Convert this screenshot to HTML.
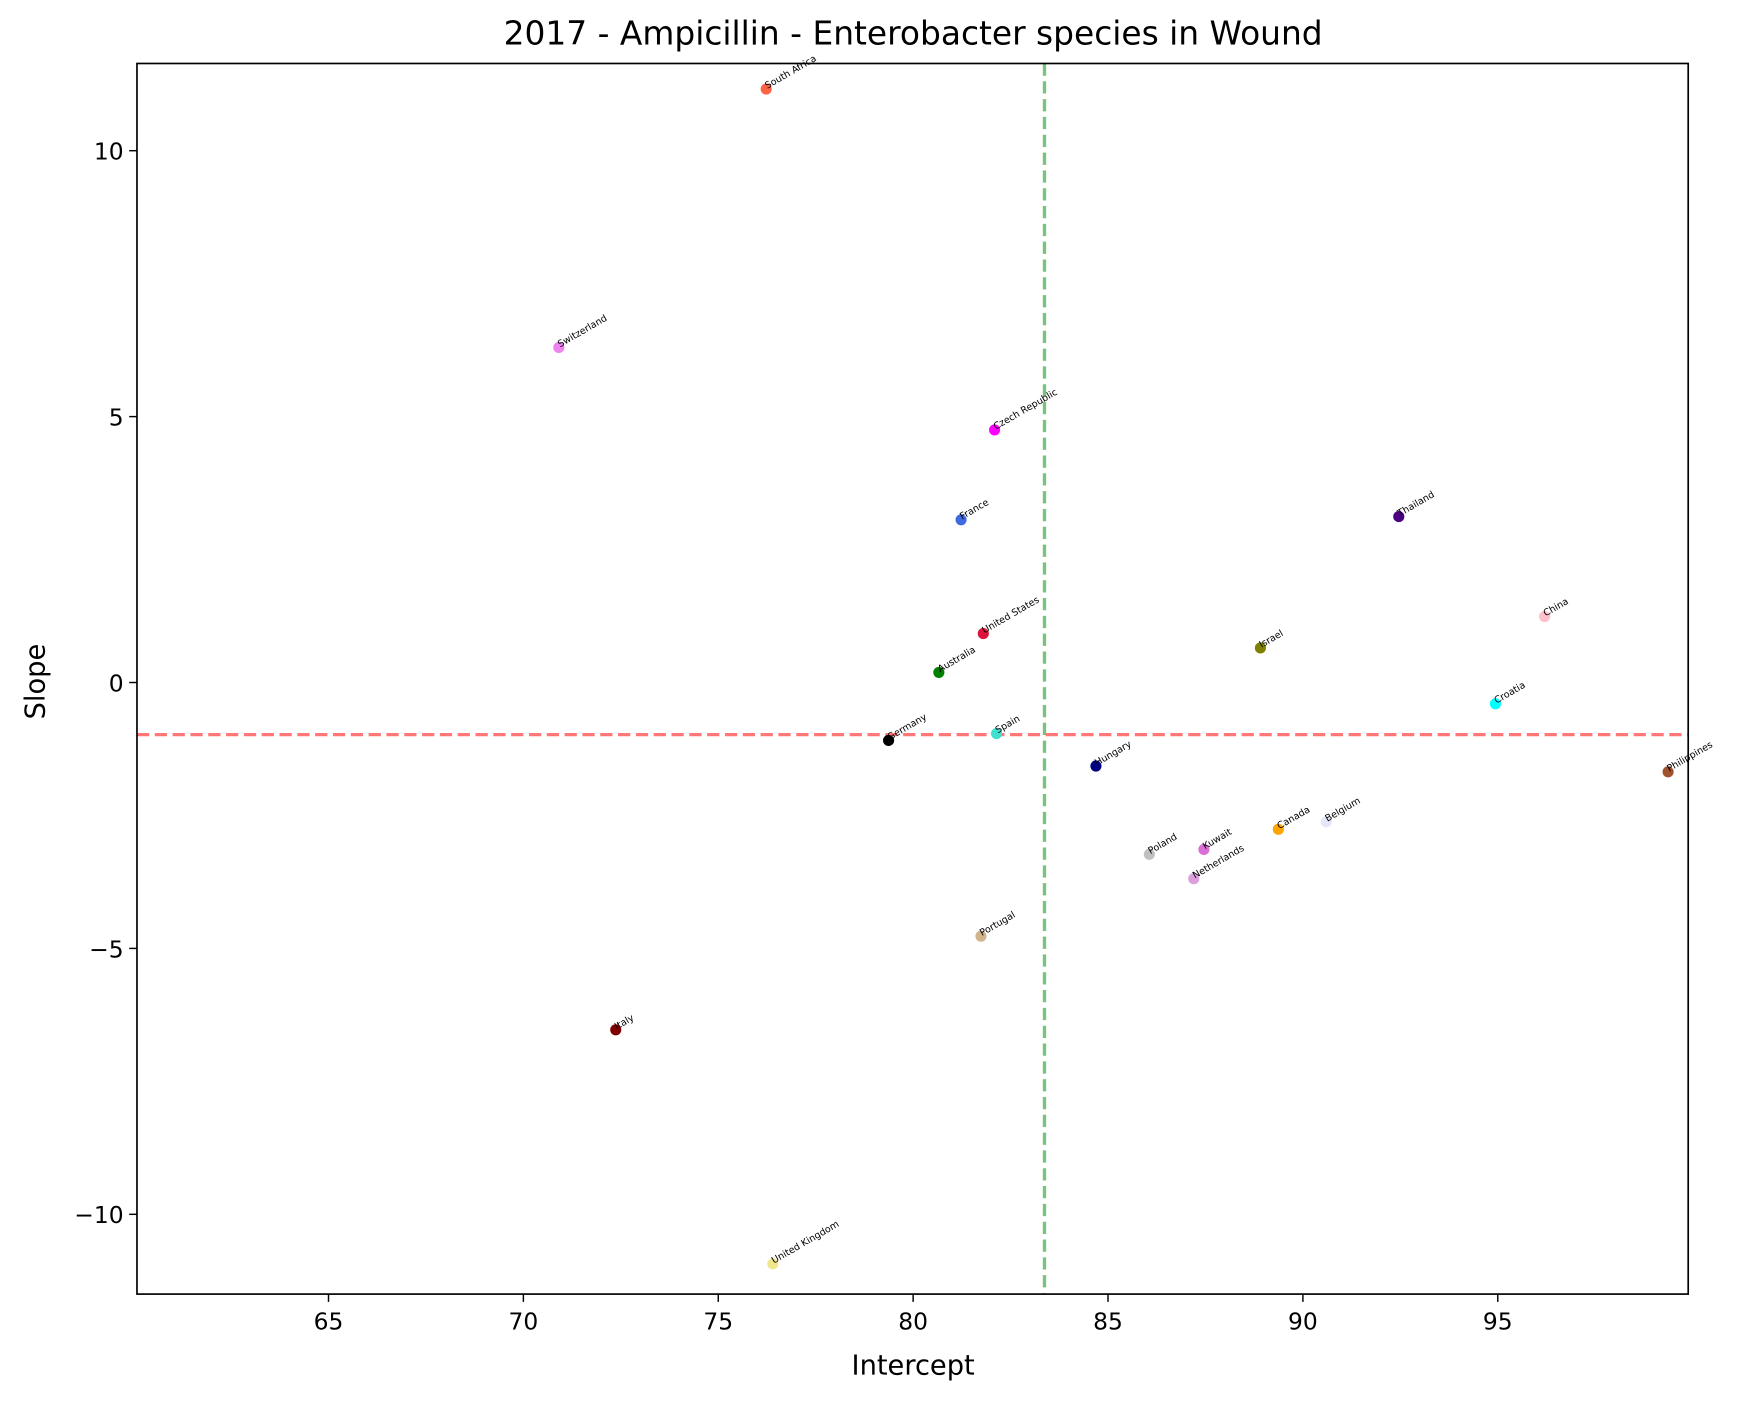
<!DOCTYPE html>
<html><head><meta charset="utf-8"><style>
body{margin:0;background:#fff;font-family:"Liberation Sans","DejaVu Sans",sans-serif;}
svg{display:block;}
svg text{font-family:"DejaVu Sans","Liberation Sans",sans-serif;}
</style></head><body>
<svg id="chart" width="1745" height="1401" viewBox="0 0 1567 1258" preserveAspectRatio="none" xmlns="http://www.w3.org/2000/svg"></svg>
<script>
const countries=["South Africa","Switzerland","Czech Republic","France","Thailand","China","United States","Israel","Australia","Croatia","Germany","Spain","Hungary","Philippines","Belgium","Canada","Kuwait","Poland","Netherlands","Portugal","Italy","United Kingdom"];
const intercepts=[76.23,70.91,82.09,81.23,92.46,96.2,81.8,88.91,80.66,94.94,79.37,82.14,84.69,99.37,90.6,89.37,87.46,86.06,87.2,81.74,72.37,76.4];
const slopes=[11.16,6.30,4.75,3.06,3.12,1.24,0.92,0.65,0.19,-0.40,-1.09,-0.96,-1.57,-1.68,-2.62,-2.76,-3.14,-3.23,-3.69,-4.77,-6.53,-10.93];
const colors=["tomato","violet","magenta","royalblue","indigo","pink","crimson","olive","green","cyan","black","turquoise","navy","sienna","lavender","orange","orchid","silver","plum","tan","maroon","khaki"];
const xTicks=[65,70,75,80,85,90,95];
const yTicks=[10,5,0,-5,-10];
const meanIntercept=83.37;
const meanSlope=-0.98;
const X0=123,X1=1516,Y0=57,Y1=1162;
const xMin=60.086,xMax=99.886,yMin=-11.50,yMax=11.64;
const sx=v=>X0+(v-xMin)/(xMax-xMin)*(X1-X0);
const sy=v=>Y1-(v-yMin)/(yMax-yMin)*(Y1-Y0);
const svg=document.getElementById('chart');
const NS="http://www.w3.org/2000/svg";
function mk(tag,attrs,parent){const e=document.createElementNS(NS,tag);for(const k in attrs)e.setAttribute(k,attrs[k]);(parent||svg).appendChild(e);return e;}
let t=mk('text',{x:820,y:40,'font-size':29.5,'text-anchor':'middle',fill:'#000'});t.textContent="2017 - Ampicillin - Enterobacter species in Wound";


t=mk('text',{x:820,y:1234,'font-size':24.5,'text-anchor':'middle'});t.textContent="Intercept";


t=mk('text',{x:40,y:612,'font-size':24.5,'text-anchor':'middle',transform:'rotate(-90 40 612)'});t.textContent="Slope";


xTicks.forEach(v=>{const x=sx(v);mk('line',{x1:x,x2:x,y1:Y1,y2:Y1+7,stroke:'#000','stroke-width':1.3});
 const l=mk('text',{x:x,y:Y1+32,'font-size':21,'text-anchor':'middle'});l.textContent=v;
 
 });
yTicks.forEach(v=>{const y=sy(v);mk('line',{x1:X0-7,x2:X0,y1:y,y2:y,stroke:'#000','stroke-width':1.3});
 const l=mk('text',{x:X0-12,y:y+8,'font-size':21,'text-anchor':'end'});l.textContent=v<0?'\u2212'+(-v):v;
 
 });
let ln=mk('line',{x1:sx(meanIntercept),x2:sx(meanIntercept),y1:Y0,y2:Y1,stroke:'#4caf50','stroke-opacity':0.75,'stroke-width':3,'stroke-dasharray':'11,5'});


ln=mk('line',{x1:X0,x2:X1,y1:sy(meanSlope),y2:sy(meanSlope),stroke:'#ff5555','stroke-opacity':0.8,'stroke-width':3,'stroke-dasharray':'11,5'});


countries.forEach((c,i)=>{const x=sx(intercepts[i]),y=sy(slopes[i]);
 const p=mk('circle',{cx:x,cy:y,r:5,fill:colors[i]});
 
 
 const lx=x+1,ly=y;
 const l=mk('text',{x:lx,y:ly,'font-size':8.5,transform:`rotate(-30 ${lx} ${ly})`});l.textContent=c;
 
 });
const fr=mk('rect',{x:X0,y:Y0,width:X1-X0,height:Y1-Y0,fill:'none',stroke:'#000','stroke-width':1.5});


</script>
</body></html>
